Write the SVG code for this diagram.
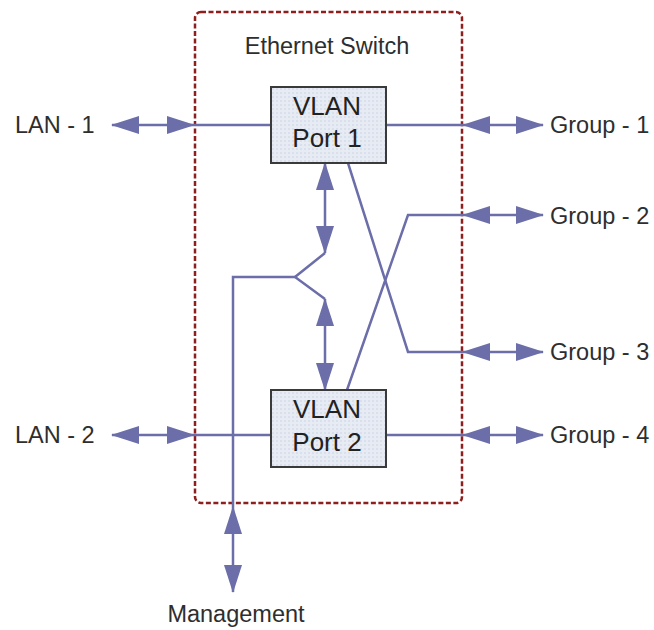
<svg xmlns="http://www.w3.org/2000/svg" width="654" height="630" viewBox="0 0 654 630">
<style>
.lbl{font-family:"Liberation Sans",Arial,sans-serif;font-size:23.5px;fill:#2e2e2e}
.node{font-family:"Liberation Sans",Arial,sans-serif;font-size:26px;fill:#222222;text-anchor:middle}
.ln{stroke:#6b6ea8;stroke-width:2.5;fill:none}
.arr{stroke:#6b6ea8;stroke-width:2.5;fill:none;marker-start:url(#ah);marker-end:url(#ah)}
.box{fill:url(#dots);stroke:#3a3a3a;stroke-width:2}
</style>
<defs>
<marker id="ah" markerUnits="userSpaceOnUse" viewBox="0 0 28 18" markerWidth="28" markerHeight="18" refX="27" refY="9" orient="auto-start-reverse">
<path d="M0,0 L28,9 L0,18 z" fill="#6b6ea8"/>
</marker>
<pattern id="dots" width="4" height="4" patternUnits="userSpaceOnUse">
<rect width="4" height="4" fill="#e6ebf4"/>
<circle cx="1" cy="1" r="0.7" fill="#c3cbdc"/>
</pattern>
</defs>
<rect id="switch" x="195" y="12" width="267" height="491" rx="6" fill="none" stroke="#8e1f1f" stroke-width="2.5" stroke-dasharray="5,2.5"/>
<text class="lbl" x="327" y="54" text-anchor="middle">Ethernet Switch</text>
<g id="connectors">
<line class="ln" x1="194" y1="125" x2="271" y2="125"/>
<line class="arr" x1="112" y1="125" x2="194" y2="125"/>
<line class="ln" x1="386" y1="125" x2="463" y2="125"/>
<line class="arr" x1="463" y1="125" x2="543" y2="125"/>
<line class="ln" x1="194" y1="435" x2="271" y2="435"/>
<line class="arr" x1="112" y1="435" x2="194" y2="435"/>
<line class="ln" x1="386" y1="435" x2="463" y2="435"/>
<line class="arr" x1="463" y1="435" x2="543" y2="435"/>
<polyline class="ln" points="348,163 408,352 463,352"/>
<line class="arr" x1="463" y1="352" x2="543" y2="352"/>
<polyline class="ln" points="347,390 408,215 463,215"/>
<line class="arr" x1="463" y1="215" x2="543" y2="215"/>
<line class="arr" x1="325" y1="163" x2="325" y2="253"/>
<line class="arr" x1="325" y1="299" x2="325" y2="390"/>
<polyline class="ln" points="325,253 295,277 325,299"/>
<polyline class="ln" points="295,277 233,277 233,507"/>
<line class="arr" x1="233" y1="507" x2="233" y2="592"/>
</g>
<g id="vlan1">
<rect class="box" x="271" y="87" width="115" height="76"/>
<text class="node" x="327" y="115">VLAN</text>
<text class="node" x="327" y="147">Port 1</text>
</g>
<g id="vlan2">
<rect class="box" x="271" y="390" width="115" height="77"/>
<text class="node" x="327" y="418">VLAN</text>
<text class="node" x="327" y="451">Port 2</text>
</g>
<g id="lan1"><text class="lbl" x="15" y="133">LAN - 1</text></g>
<g id="lan2"><text class="lbl" x="15" y="443">LAN - 2</text></g>
<g id="group1"><text class="lbl" x="550" y="133">Group - 1</text></g>
<g id="group2"><text class="lbl" x="550" y="224">Group - 2</text></g>
<g id="group3"><text class="lbl" x="550" y="360">Group - 3</text></g>
<g id="group4"><text class="lbl" x="550" y="443">Group - 4</text></g>
<g id="management"><text class="lbl" x="236" y="622" text-anchor="middle">Management</text></g>
</svg>
